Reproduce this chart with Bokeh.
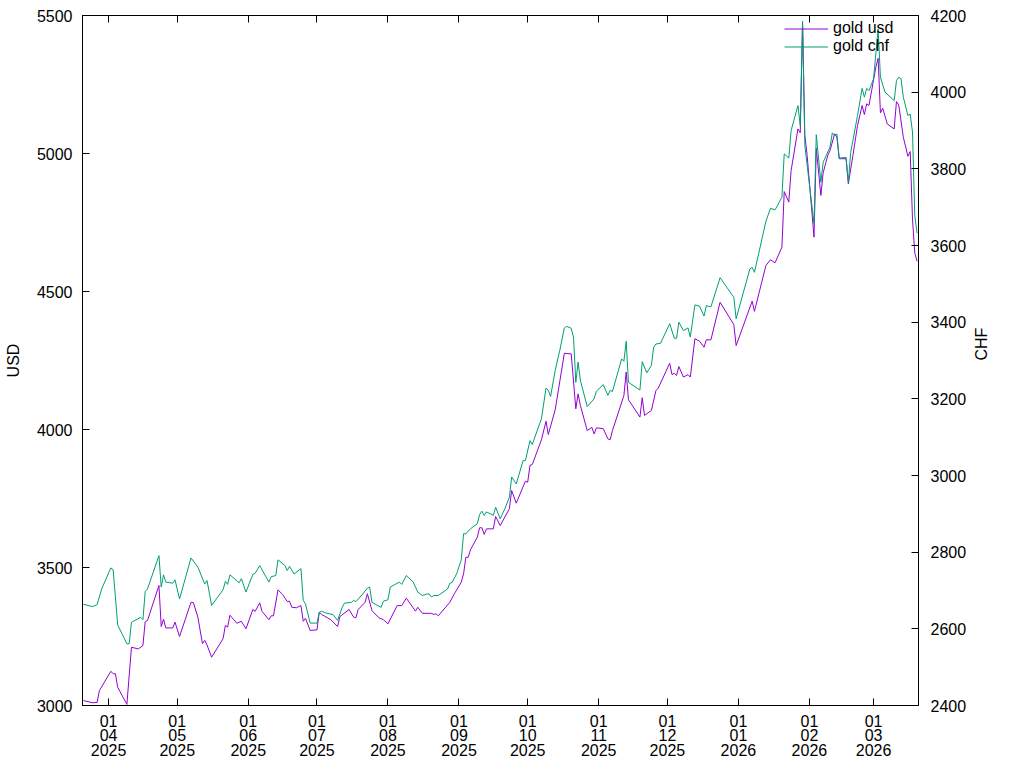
import math
import pandas as pd
from bokeh.plotting import figure
from bokeh.models import (Range1d, LinearAxis, DatetimeAxis, FixedTicker,
                          DatetimeTickFormatter, CustomJSTickFormatter, Legend, LegendItem)
from bokeh.embed import file_html
from bokeh.resources import INLINE

# ---------------- data ----------------
usd_dates = [
    "2025-03-21", "2025-03-25", "2025-03-27", "2025-03-28", "2025-04-02", "2025-04-03", "2025-04-04",
    "2025-04-05", "2025-04-09", "2025-04-11", "2025-04-14", "2025-04-16", "2025-04-17", "2025-04-18",
    "2025-04-23", "2025-04-24", "2025-04-25", "2025-04-26", "2025-04-29", "2025-04-30", "2025-05-02",
    "2025-05-07", "2025-05-08", "2025-05-10", "2025-05-12", "2025-05-13", "2025-05-14", "2025-05-16",
    "2025-05-21", "2025-05-22", "2025-05-23", "2025-05-24", "2025-05-27", "2025-05-29", "2025-05-31",
    "2025-06-03", "2025-06-04", "2025-06-06", "2025-06-07", "2025-06-10", "2025-06-11", "2025-06-12",
    "2025-06-14", "2025-06-16", "2025-06-18", "2025-06-19", "2025-06-20", "2025-06-22", "2025-06-24",
    "2025-06-25", "2025-06-26", "2025-06-28", "2025-07-01", "2025-07-02", "2025-07-03", "2025-07-07",
    "2025-07-10", "2025-07-11", "2025-07-15", "2025-07-17", "2025-07-18", "2025-07-19", "2025-07-22",
    "2025-07-23", "2025-07-25", "2025-07-28", "2025-07-30", "2025-08-01", "2025-08-05", "2025-08-07",
    "2025-08-09", "2025-08-13", "2025-08-14", "2025-08-16", "2025-08-20", "2025-08-21", "2025-08-22",
    "2025-08-23", "2025-08-28", "2025-08-30", "2025-09-02", "2025-09-03", "2025-09-04", "2025-09-05",
    "2025-09-06", "2025-09-09", "2025-09-10", "2025-09-11", "2025-09-12", "2025-09-13", "2025-09-16",
    "2025-09-17", "2025-09-19", "2025-09-23", "2025-09-24", "2025-09-26", "2025-09-30", "2025-10-01",
    "2025-10-02", "2025-10-03", "2025-10-07", "2025-10-09", "2025-10-10", "2025-10-13", "2025-10-17",
    "2025-10-20", "2025-10-22", "2025-10-23", "2025-10-24", "2025-10-27", "2025-10-29", "2025-10-30",
    "2025-10-31", "2025-11-03", "2025-11-05", "2025-11-06", "2025-11-07", "2025-11-12", "2025-11-13",
    "2025-11-14", "2025-11-19", "2025-11-20", "2025-11-21", "2025-11-24", "2025-11-26", "2025-11-27",
    "2025-12-02", "2025-12-03", "2025-12-04", "2025-12-05", "2025-12-06", "2025-12-08", "2025-12-10",
    "2025-12-11", "2025-12-13", "2025-12-15", "2025-12-17", "2025-12-18", "2025-12-20", "2025-12-24",
    "2025-12-30", "2025-12-31", "2026-01-07", "2026-01-08", "2026-01-13", "2026-01-15", "2026-01-17",
    "2026-01-20", "2026-01-21", "2026-01-23", "2026-01-24", "2026-01-27", "2026-01-28", "2026-01-29",
    "2026-01-30", "2026-01-31", "2026-02-03", "2026-02-04", "2026-02-06", "2026-02-07", "2026-02-09",
    "2026-02-10", "2026-02-12", "2026-02-13", "2026-02-14", "2026-02-17", "2026-02-18", "2026-02-20",
    "2026-02-22", "2026-02-24", "2026-02-25", "2026-02-26", "2026-02-27", "2026-03-02", "2026-03-03",
    "2026-03-04", "2026-03-05", "2026-03-07", "2026-03-10", "2026-03-11", "2026-03-12", "2026-03-14",
    "2026-03-16", "2026-03-17", "2026-03-18", "2026-03-19", "2026-03-20",
]
usd_values = [
    3018, 3010, 3011, 3054, 3124, 3115, 3115,
    3066, 3004, 3211, 3205, 3217, 3304, 3308,
    3435, 3286, 3313, 3281, 3281, 3302, 3250,
    3374, 3373, 3320, 3224, 3236, 3219, 3175,
    3242, 3290, 3284, 3327, 3298, 3305, 3278,
    3348, 3341, 3372, 3341, 3311, 3325, 3325,
    3419, 3402, 3377, 3378, 3356, 3354, 3362,
    3305, 3316, 3272, 3274, 3338, 3330, 3311,
    3286, 3322, 3348, 3320, 3318, 3348, 3374,
    3405, 3344, 3318, 3311, 3296, 3362, 3362,
    3389, 3342, 3356, 3334, 3334, 3330, 3332,
    3325, 3374, 3405, 3447, 3477, 3537, 3537,
    3564, 3610, 3644, 3644, 3620, 3640, 3640,
    3685, 3652, 3713, 3779, 3733, 3813, 3809,
    3870, 3873, 3963, 4030, 3982, 4071, 4276,
    4274, 4075, 4129, 4087, 3996, 4008, 3984,
    4006, 4003, 3966, 3963, 3996, 4123, 4208,
    4108, 4045, 4115, 4051, 4069, 4141, 4150,
    4240, 4199, 4204, 4196, 4228, 4190, 4199,
    4190, 4329, 4320, 4298, 4325, 4325, 4461,
    4380, 4304, 4465, 4428, 4594, 4615, 4604,
    4661, 4862, 4824, 4938, 5089, 5075, 5475,
    5065, 4993, 4697, 5019, 4848, 4930, 4993,
    5011, 5071, 5059, 4981, 4981, 4890, 4993,
    5101, 5174, 5141, 5180, 5174, 5313, 5345,
    5147, 5164, 5107, 5089, 5188, 5176, 5059,
    4990, 5007, 4763, 4640, 4609,
]

chf_dates = [
    "2025-03-21", "2025-03-25", "2025-03-27", "2025-03-29", "2025-04-02", "2025-04-03", "2025-04-05",
    "2025-04-09", "2025-04-10", "2025-04-11", "2025-04-15", "2025-04-16", "2025-04-17", "2025-04-18",
    "2025-04-23", "2025-04-24", "2025-04-25", "2025-04-26", "2025-04-29", "2025-04-30", "2025-05-02",
    "2025-05-07", "2025-05-10", "2025-05-13", "2025-05-14", "2025-05-16", "2025-05-21", "2025-05-22",
    "2025-05-23", "2025-05-24", "2025-05-28", "2025-05-29", "2025-05-31", "2025-06-03", "2025-06-04",
    "2025-06-06", "2025-06-10", "2025-06-11", "2025-06-13", "2025-06-14", "2025-06-17", "2025-06-18",
    "2025-06-19", "2025-06-21", "2025-06-24", "2025-06-25", "2025-06-26", "2025-06-28", "2025-07-01",
    "2025-07-02", "2025-07-03", "2025-07-05", "2025-07-08", "2025-07-10", "2025-07-12", "2025-07-13",
    "2025-07-16", "2025-07-17", "2025-07-18", "2025-07-21", "2025-07-23", "2025-07-24", "2025-07-25",
    "2025-07-29", "2025-07-30", "2025-08-01", "2025-08-02", "2025-08-06", "2025-08-07", "2025-08-09",
    "2025-08-12", "2025-08-14", "2025-08-16", "2025-08-18", "2025-08-19", "2025-08-20", "2025-08-21",
    "2025-08-23", "2025-08-27", "2025-08-28", "2025-08-29", "2025-08-31", "2025-09-02", "2025-09-03",
    "2025-09-04", "2025-09-06", "2025-09-09", "2025-09-10", "2025-09-11", "2025-09-12", "2025-09-13",
    "2025-09-16", "2025-09-17", "2025-09-19", "2025-09-21", "2025-09-23", "2025-09-24", "2025-09-26",
    "2025-09-29", "2025-09-30", "2025-10-02", "2025-10-03", "2025-10-07", "2025-10-09", "2025-10-10",
    "2025-10-11", "2025-10-13", "2025-10-15", "2025-10-17", "2025-10-18", "2025-10-20", "2025-10-21",
    "2025-10-22", "2025-10-23", "2025-10-24", "2025-10-27", "2025-10-30", "2025-10-31", "2025-11-03",
    "2025-11-05", "2025-11-06", "2025-11-07", "2025-11-11", "2025-11-12", "2025-11-13", "2025-11-14",
    "2025-11-19", "2025-11-20", "2025-11-22", "2025-11-24", "2025-11-25", "2025-11-26", "2025-11-28",
    "2025-12-02", "2025-12-04", "2025-12-05", "2025-12-06", "2025-12-08", "2025-12-10", "2025-12-11",
    "2025-12-13", "2025-12-15", "2025-12-17", "2025-12-18", "2025-12-20", "2025-12-24", "2025-12-30",
    "2025-12-31", "2026-01-06", "2026-01-07", "2026-01-08", "2026-01-13", "2026-01-15", "2026-01-17",
    "2026-01-20", "2026-01-21", "2026-01-23", "2026-01-24", "2026-01-27", "2026-01-28", "2026-01-29",
    "2026-01-30", "2026-02-03", "2026-02-04", "2026-02-06", "2026-02-07", "2026-02-10", "2026-02-11",
    "2026-02-12", "2026-02-13", "2026-02-14", "2026-02-17", "2026-02-18", "2026-02-19", "2026-02-22",
    "2026-02-24", "2026-02-25", "2026-02-26", "2026-02-27", "2026-03-01", "2026-03-03", "2026-03-04",
    "2026-03-06", "2026-03-10", "2026-03-11", "2026-03-12", "2026-03-13", "2026-03-14", "2026-03-16",
    "2026-03-17", "2026-03-18", "2026-03-19", "2026-03-20",
]
chf_values = [
    2664, 2658, 2663, 2704, 2759, 2754, 2610,
    2561, 2561, 2617, 2630, 2624, 2697, 2704,
    2791, 2709, 2741, 2722, 2719, 2728, 2678,
    2785, 2761, 2717, 2726, 2661, 2702, 2724,
    2716, 2741, 2720, 2731, 2696, 2742, 2745,
    2765, 2722, 2736, 2739, 2780, 2765, 2752,
    2763, 2743, 2757, 2674, 2665, 2615, 2615,
    2643, 2646, 2641, 2637, 2622, 2656, 2667,
    2669, 2674, 2671, 2691, 2706, 2709, 2669,
    2656, 2672, 2676, 2709, 2722, 2716, 2739,
    2722, 2696, 2687, 2691, 2691, 2683, 2687,
    2687, 2704, 2719, 2721, 2744, 2780, 2848,
    2848, 2861, 2874, 2898, 2907, 2896, 2905,
    2896, 2917, 2887, 2913, 2943, 2996, 2978,
    3039, 3039, 3091, 3081, 3148, 3228, 3222,
    3206, 3274, 3326, 3385, 3389, 3384, 3361,
    3243, 3296, 3248, 3180, 3200, 3220, 3237,
    3209, 3222, 3219, 3304, 3298, 3350, 3243,
    3223, 3297, 3268, 3287, 3335, 3343, 3345,
    3396, 3358, 3358, 3400, 3378, 3385, 3361,
    3445, 3442, 3416, 3443, 3440, 3516, 3465,
    3409, 3539, 3543, 3530, 3663, 3697, 3693,
    3726, 3839, 3828, 3900, 3965, 3913, 4185,
    3861, 3657, 3889, 3765, 3817, 3857, 3894,
    3887, 3891, 3828, 3830, 3765, 3842, 3939,
    4010, 3987, 4010, 4004, 4035, 4165, 4039,
    4000, 3978, 4030, 4039, 4035, 3987, 3939,
    3943, 3896, 3678, 3632,
]

month_ticks = ["2025-04-01", "2025-05-01", "2025-06-01", "2025-07-01", "2025-08-01", "2025-09-01",
               "2025-10-01", "2025-11-01", "2025-12-01", "2026-01-01", "2026-02-01", "2026-03-01"]
usd_ticks = [3000, 3500, 4000, 4500, 5000, 5500]
chf_ticks = [2400, 2600, 2800, 3000, 3200, 3400, 3600, 3800, 4000, 4200]
series_labels = ["gold usd", "gold chf"]

# ---------------- styling ----------------
FONT = "Liberation Sans"
FS = "16px"
USD_COLOR = "#9400d3"
CHF_COLOR = "#009e73"

usd_x = pd.to_datetime(usd_dates)
chf_x = pd.to_datetime(chf_dates)
tick_ms = [pd.Timestamp(d).timestamp() * 1000.0 for d in month_ticks]

p = figure(width=1024, height=768, x_axis_type="datetime",
           output_backend="svg", toolbar_location=None,
           x_range=Range1d(pd.Timestamp("2025-03-20 15:00"), pd.Timestamp("2026-03-20 15:00")),
           y_range=Range1d(3000, 5500),
           min_border_left=82, min_border_right=106, min_border_top=15, min_border_bottom=63)
p.extra_y_ranges = {"chf": Range1d(2400, 4200)}
p.background_fill_color = "white"
p.border_fill_color = "white"
p.outline_line_color = "black"
p.outline_line_width = 1
p.xgrid.visible = False
p.ygrid.visible = False

fmt_str = "%d\n%m\n%Y"
dt_fmt = DatetimeTickFormatter(microseconds=fmt_str, milliseconds=fmt_str, seconds=fmt_str,
                               minsec=fmt_str, minutes=fmt_str, hourmin=fmt_str, hours=fmt_str,
                               days=fmt_str, months=fmt_str, years=fmt_str)


def style_axis(ax):
    ax.axis_line_color = "black"
    ax.major_tick_line_color = "black"
    ax.major_tick_in = 7
    ax.major_tick_out = 0
    ax.minor_tick_line_color = None
    ax.major_label_text_font = FONT
    ax.major_label_text_font_size = FS
    ax.major_label_text_color = "black"
    ax.axis_label_text_font = FONT
    ax.axis_label_text_font_size = FS
    ax.axis_label_text_font_style = "normal"
    ax.axis_label_text_color = "black"


xax = p.xaxis[0]
xax.ticker = FixedTicker(ticks=tick_ms)
xax.formatter = dt_fmt
style_axis(xax)
xax.major_label_standoff = 7
try:
    xax.major_label_text_line_height = 0.88
except Exception:
    pass

yax = p.yaxis[0]
yax.ticker = FixedTicker(ticks=usd_ticks)
yax.axis_label = "USD"
style_axis(yax)
yax.major_label_standoff = 10
yax.axis_label_standoff = 12

rax = LinearAxis(y_range_name="chf", ticker=FixedTicker(ticks=chf_ticks), axis_label="CHF")
style_axis(rax)
rax.major_label_standoff = 12
rax.axis_label_standoff = 12
try:
    rax.axis_label_orientation = math.pi / 2
except Exception:
    pass
p.add_layout(rax, "right")

tax = DatetimeAxis(ticker=FixedTicker(ticks=tick_ms),
                   formatter=CustomJSTickFormatter(code="return ''"))
style_axis(tax)
tax.major_label_text_font_size = "0px"
tax.major_label_standoff = 0
p.add_layout(tax, "above")

r_usd = p.line(usd_x, usd_values, line_color=USD_COLOR, line_width=1)
r_chf = p.line(chf_x, chf_values, line_color=CHF_COLOR, line_width=1, y_range_name="chf")

legend = Legend(items=[LegendItem(label=series_labels[0], renderers=[r_usd]),
                       LegendItem(label=series_labels[1], renderers=[r_chf])],
                location=(702, 650))
legend.label_text_font = FONT
legend.label_text_font_size = FS
legend.label_text_color = "black"
legend.glyph_width = 44
legend.glyph_height = 15
legend.label_height = 15
legend.spacing = 0
legend.padding = 4
legend.margin = 0
legend.border_line_color = None
legend.background_fill_alpha = 0
p.add_layout(legend)

open("out.html", "w").write(file_html(p, INLINE))
